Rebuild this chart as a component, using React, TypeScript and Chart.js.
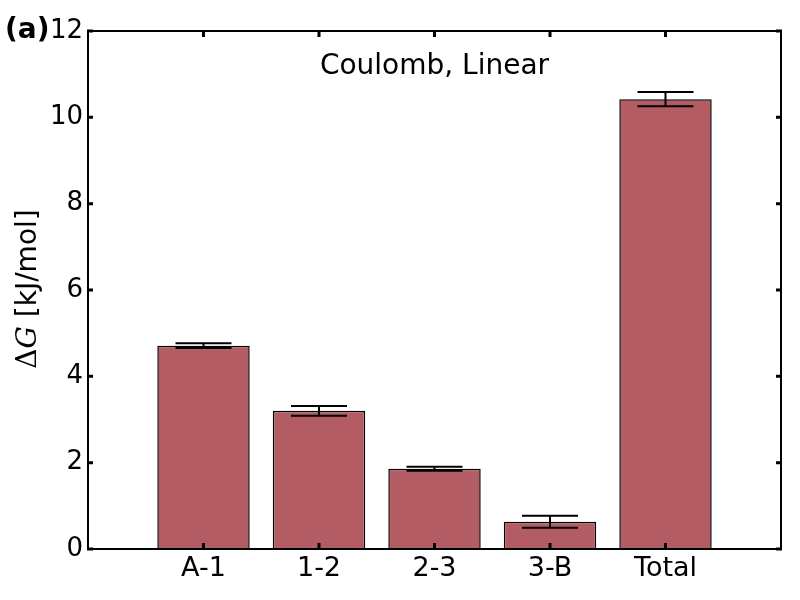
import React, { useEffect, useRef } from "react";
import { Chart, registerables } from "chart.js";

Chart.register(...registerables);

const categories = ["A-1", "1-2", "2-3", "3-B", "Total"];
const values = [4.71, 3.2, 1.86, 0.63, 10.42];
const errors = [0.055, 0.115, 0.047, 0.14, 0.165];
const yTicks = [0, 2, 4, 6, 8, 10, 12];
const panelLabel = "(a)";
const titleText = "Coulomb, Linear";

const FONT = "'DejaVu Sans', sans-serif";

export default function App() {
  const ref = useRef<HTMLCanvasElement | null>(null);

  useEffect(() => {
    const canvas = ref.current;
    if (!canvas) return;
    const labels = ["", ...categories, ""];
    const data = [null, ...values, null];
    const errs = [null, ...errors, null];

    const decor = {
      id: "decor",
      afterDatasetsDraw(chart: any) {
        const ctx = chart.ctx;
        const xs = chart.scales.x;
        const ys = chart.scales.y;
        const area = chart.chartArea;
        ctx.save();
        // error bars
        ctx.strokeStyle = "#000";
        ctx.lineWidth = 2;
        for (let i = 0; i < data.length; i++) {
          const v = data[i];
          const e = errs[i];
          if (v == null || e == null) continue;
          const x = xs.getPixelForValue(i);
          const yt = ys.getPixelForValue(v + e);
          const yb = ys.getPixelForValue(v - e);
          ctx.beginPath();
          ctx.moveTo(x, yt);
          ctx.lineTo(x, yb);
          ctx.moveTo(x - 28, yt);
          ctx.lineTo(x + 28, yt);
          ctx.moveTo(x - 28, yb);
          ctx.lineTo(x + 28, yb);
          ctx.stroke();
        }
        // frame
        ctx.lineWidth = 2;
        ctx.strokeRect(area.left, area.top, area.right - area.left, area.bottom - area.top);
        // ticks
        ctx.lineWidth = 3;
        ctx.beginPath();
        for (const t of yTicks) {
          const y = ys.getPixelForValue(t);
          ctx.moveTo(area.left - 1, y);
          ctx.lineTo(area.left + 5, y);
          ctx.moveTo(area.right + 1, y);
          ctx.lineTo(area.right - 5, y);
        }
        for (let i = 1; i <= categories.length; i++) {
          const x = xs.getPixelForValue(i);
          ctx.moveTo(x, area.bottom + 1);
          ctx.lineTo(x, area.bottom - 6);
          ctx.moveTo(x, area.top - 1);
          ctx.lineTo(x, area.top + 6);
        }
        ctx.stroke();
        // title
        ctx.fillStyle = "#000";
        ctx.font = `28px ${FONT}`;
        ctx.textAlign = "center";
        ctx.textBaseline = "middle";
        ctx.fillText(titleText, (area.left + area.right) / 2, 67);
        // panel label
        ctx.font = `bold 28px ${FONT}`;
        ctx.textAlign = "left";
        ctx.fillText(panelLabel, 5, 31);
        // y axis title
        ctx.translate(29, 289);
        ctx.rotate(-Math.PI / 2);
        const p1 = "\u0394";
        const p2 = "G";
        const p3 = " [kJ/mol]";
        const serif = "'DejaVu Serif', serif";
        ctx.font = `28px ${serif}`;
        const w1 = ctx.measureText(p1).width;
        ctx.font = `italic 28px ${serif}`;
        const w2 = ctx.measureText(p2).width;
        ctx.font = `28px ${FONT}`;
        const w3 = ctx.measureText(p3).width;
        let x0 = -(w1 + w2 + w3) / 2;
        ctx.textAlign = "left";
        ctx.font = `28px ${serif}`;
        ctx.fillText(p1, x0, 0);
        x0 += w1;
        ctx.font = `italic 28px ${serif}`;
        ctx.fillText(p2, x0, 0);
        x0 += w2;
        ctx.font = `28px ${FONT}`;
        ctx.fillText(p3, x0, 0);
        ctx.restore();
      },
    };

    const chart = new Chart(canvas, {
      type: "bar",
      data: {
        labels,
        datasets: [
          {
            data: data as any,
            backgroundColor: "rgb(179,92,100)",
            borderColor: "#000",
            borderWidth: 1.5,
            barPercentage: 0.8,
            categoryPercentage: 1,
          },
        ],
      },
      options: {
        responsive: false,
        animation: false,
        layout: { padding: { left: 0, top: 31, right: 19, bottom: 0 } },
        plugins: { legend: { display: false }, tooltip: { enabled: false } },
        scales: {
          x: {
            offset: false,
            grid: { display: false, drawTicks: false },
            border: { display: false },
            ticks: {
              color: "#000",
              font: { family: FONT, size: 27 },
              padding: 4,
              maxRotation: 0,
              autoSkip: false,
            },
            afterFit(scale: any) {
              scale.height = 51;
            },
          },
          y: {
            min: 0,
            max: 12,
            grid: { display: false, drawTicks: false },
            border: { display: false },
            ticks: {
              stepSize: 2,
              color: "#000",
              font: { family: FONT, size: 26 },
              padding: 5,
            },
            afterFit(scale: any) {
              scale.width = 88;
            },
          },
        },
      },
      plugins: [decor],
    });
    return () => chart.destroy();
  }, []);

  return (
    <div style={{ position: "fixed", left: 0, top: 0, width: 800, height: 600, background: "#fff" }}>
      <canvas ref={ref} width={800} height={600} />
    </div>
  );
}
